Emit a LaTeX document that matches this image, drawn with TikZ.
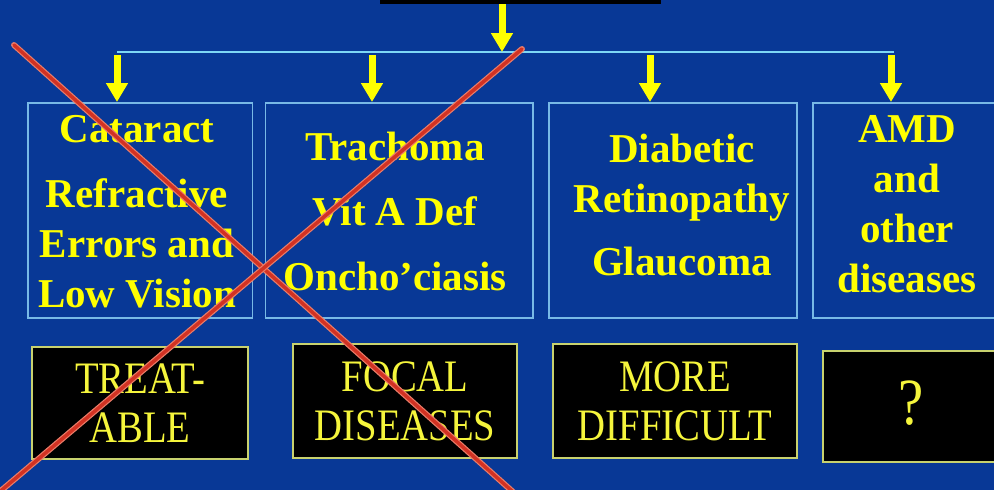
\documentclass[tikz,border=0pt]{standalone}
\usepackage{fontspec}
\setmainfont{Liberation Serif}
\newfontfamily\condserif[FakeStretch=0.86]{Liberation Serif}
\usepackage{xcolor}
\usetikzlibrary{arrows.meta, positioning}

\definecolor{slideblue}{RGB}{8,56,150}
\definecolor{boxline}{RGB}{120,185,230}
\definecolor{busline}{RGB}{125,215,245}
\definecolor{labelyellow}{RGB}{255,255,0}
\definecolor{verdictyellow}{RGB}{245,245,60}
\definecolor{verdictline}{RGB}{200,210,110}
\definecolor{arrowyellow}{RGB}{255,255,0}
\definecolor{crossedge}{RGB}{235,125,105}
\definecolor{crossred}{RGB}{210,50,35}

\begin{document}
\begin{tikzpicture}[x=1pt, y=-1pt,
    groupbox/.style={rectangle, draw=boxline, line width=1.5pt, minimum height=215pt, inner sep=0pt},
    disease/.style={font=\bfseries\fontsize{41}{50}\selectfont, text=labelyellow, align=center, inner sep=0pt, anchor=north},
    verdict/.style={rectangle, fill=black, draw=verdictline, line width=1.5pt, inner sep=0pt, font=\condserif\fontsize{45}{49}\selectfont, text=verdictyellow, align=center},
    titlebox/.style={rectangle, fill=black, inner sep=0pt},
    arrow/.style={-{Triangle[width=21pt, length=19pt]}, line width=7pt, arrowyellow},
    bus/.style={busline, line width=2pt},
    strike/.style={line width=1.2pt, draw=crossedge, double=crossred, double distance=3.5pt, line cap=round}
]
    \path[use as bounding box] (0,0) rectangle (994,490);
    \clip (0,0) rectangle (994,490);
    \fill[slideblue] (0,0) rectangle (994,490);

    % title box, cut off at the top
    \node[titlebox, minimum width=281pt, minimum height=20pt, anchor=south] (title) at (520.5,4) {};

    % disease groups
    \node[groupbox, minimum width=224.5pt, anchor=north west] (cat) at (27,102) {};
    \node[groupbox, minimum width=267.5pt, right=11.75pt of cat] (tra) {};
    \node[groupbox, minimum width=248pt, right=14.5pt of tra] (dia) {};
    \node[groupbox, minimum width=190pt, right=14.5pt of dia] (amd) {};

    \node[disease] (catT) at (137,115) {Cataract\\[15pt]Refractive\\Errors and\\Low Vision};
    \node[disease] (traT) at (395,132) {Trachoma\\[15pt]Vit A Def\\[15pt]Oncho'ciasis};
    \node[disease] (diaT) at (682,134) {Diabetic\\Retinopathy\\[13pt]Glaucoma};
    \node[disease] (amdT) at (907,115) {AMD\\and\\other\\diseases};

    % verdicts
    \node[verdict, minimum width=216pt, minimum height=112pt] (treat) at (140,403) {TREAT-\\ABLE};
    \node[verdict, minimum width=224pt, minimum height=114pt] (focal) at (405,401) {FOCAL\\DISEASES};
    \node[verdict, minimum width=244pt, minimum height=114pt] (hard) at (675,401) {MORE\\DIFFICULT};
    \node[verdict, minimum width=177pt, minimum height=111pt] (unknown) at (911.5,406.5) {\fontsize{66}{66}\selectfont\raisebox{8pt}{?}};

    % connectors
    \coordinate (hub) at (502,52);
    \coordinate (busL) at (117,52);
    \coordinate (busR) at (894,52);
    \coordinate (drop1) at (117,55);
    \coordinate (drop2) at (372,55);
    \coordinate (drop3) at (650,55);
    \coordinate (drop4) at (891,55);

    \draw[bus] (busL) -- (busR);
    \draw[arrow] (title.south -| hub) -- (hub);
    \draw[arrow] (drop1) -- (drop1 |- cat.north);
    \draw[arrow] (drop2) -- (drop2 |- tra.north);
    \draw[arrow] (drop3) -- (drop3 |- dia.north);
    \draw[arrow] (drop4) -- (drop4 |- amd.north);

    % crossed out
    \coordinate (strikeA) at (14,45);
    \coordinate (strikeB) at (522,500);
    \coordinate (strikeC) at (522,49);
    \coordinate (strikeD) at (-10,500);
    \draw[strike] (strikeA) -- (strikeB);
    \draw[strike] (strikeC) -- (strikeD);
\end{tikzpicture}
\end{document}
